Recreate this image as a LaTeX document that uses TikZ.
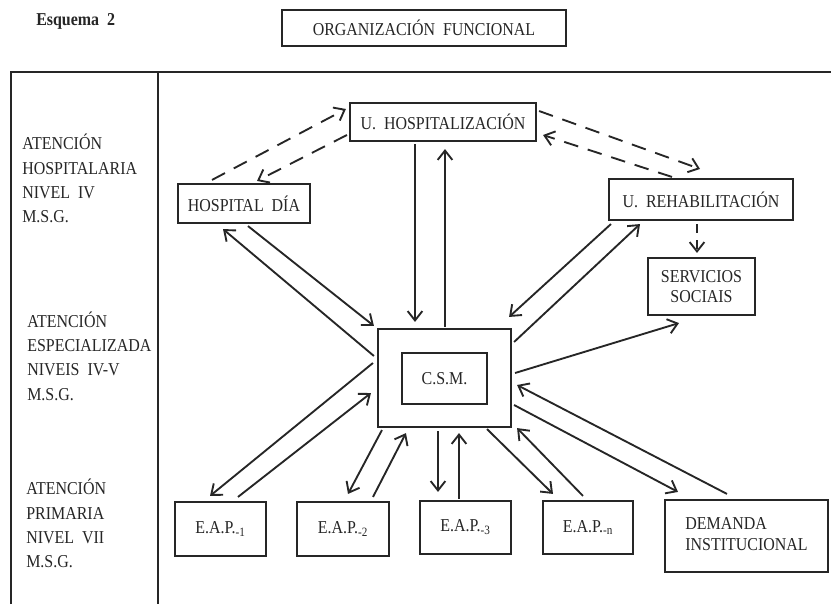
\documentclass[tikz,border=0pt]{standalone}
\usepackage{fontspec}
\setmainfont{Liberation Serif}[FakeStretch=0.88]
\usetikzlibrary{arrows.meta,calc}
\definecolor{ink}{HTML}{262626}
\tikzset{
  box/.style={draw=ink, line width=1.6pt, inner sep=0pt, align=center, text=ink},
  lbl/.style={inner sep=0pt, align=left, anchor=west, text=ink},
  arr/.style={draw=ink, line width=1.4pt, -{Straight Barb[length=7pt,width=11pt,line width=1.4pt]}},
  darr/.style={arr, dash pattern=on 11pt off 7.5pt},
  every node/.style={font=\fontsize{13.6}{18.2}\selectfont}
}
\begin{document}
\begin{tikzpicture}[x={(0.75pt,0)}, y={(0,-0.75pt)}]
\useasboundingbox[fill=white] (0,0) rectangle (831,604);
% frame
\draw[ink, line width=1.6pt] (11,604) -- (11,72) -- (831,72);
\draw[ink, line width=1.6pt] (158,72) -- (158,604);
% headers
\node[lbl, font=\fontsize{13.6}{16}\selectfont\bfseries] (esq) at (36,21) {Esquema\ \ 2};
\node[box, minimum width=213pt, minimum height=27pt] (title) at (424,28) {ORGANIZACIÓN\ \ FUNCIONAL};
% left labels
\node[lbl] (l1) at (22,178.5) {ATENCIÓN\\HOSPITALARIA\\NIVEL\ \ IV\\M.S.G.};
\node[lbl] (l2) at (27,356) {ATENCIÓN\\ESPECIALIZADA\\NIVEIS\ \ IV-V\\M.S.G.};
\node[lbl] (l3) at (26,523.5) {ATENCIÓN\\PRIMARIA\\NIVEL\ \ VII\\M.S.G.};
% boxes
\node[box, minimum width=139.5pt, minimum height=28.5pt] (uh) at (443,122) {U.\ \ HOSPITALIZACIÓN};
\node[box, minimum width=99pt, minimum height=29.25pt] (hd) at (244,203.5) {HOSPITAL\ \ DÍA};
\node[box, minimum width=138pt, minimum height=30.75pt] (ur) at (701,199.5) {U.\ \ REHABILITACIÓN};
\node[box, minimum width=80.25pt, minimum height=42.75pt, font=\fontsize{13.6}{15.5}\selectfont] (ss) at (701.5,286.5) {SERVICIOS\\SOCIAIS};
\node[box, minimum width=99.75pt, minimum height=73.5pt] (csm) at (444.5,378) {};
\node[box, minimum width=63.75pt, minimum height=38.25pt] (csmi) at (444.5,378.5) {C.S.M.};
\node[box, minimum width=68.25pt, minimum height=40.5pt] (e1) at (220.5,529) {E.A.P.\textsubscript{-1}};
\node[box, minimum width=69pt, minimum height=40.5pt] (e2) at (343,529) {E.A.P.\textsubscript{-2}};
\node[box, minimum width=68.25pt, minimum height=39.75pt] (e3) at (465.5,527.5) {E.A.P.\textsubscript{-3}};
\node[box, minimum width=67.5pt, minimum height=39.75pt] (en) at (588,527.5) {E.A.P.\textsubscript{-n}};
\node[box, minimum width=122.25pt, minimum height=54pt, font=\fontsize{13.6}{15.5}\selectfont] (dem) at (746.5,536) {\begin{tabular}{@{}l@{}}DEMANDA\\INSTITUCIONAL\end{tabular}};
% dashed connectors
\draw[darr] ($(hd.north)+(-32,-3)$) -- ($(uh.west)+(-3,-13)$);
\draw[darr] ($(uh.west)+(-2,13)$) -- ($(hd.north)+(13,-2)$);
\draw[darr] ($(uh.east)+(2,-11)$) -- ($(ur.north)+(-1,-9)$);
\draw[darr] ($(ur.north)+(-29,-1)$) -- ($(uh.east)+(6,13)$);
\draw[darr, dash pattern=on 7pt off 5pt] ($(ur.south)+(-4,3)$) -- ($(ss.north)+(-4.5,-4)$);
% solid connectors
\draw[arr] ($(uh.south)+(-28,2)$) -- ($(csm.north)+(-29.5,-6)$);
\draw[arr] ($(csm.north)+(0.5,-1)$) -- ($(uh.south)+(2,7)$);
\draw[arr] ($(hd.south)+(4,2)$) -- ($(csm.north west)+(-3,-2)$);
\draw[arr] ($(csm.west)+(-3,-22)$) -- ($(hd.south)+(-21,5)$);
\draw[arr] ($(ur.south west)+(3,3)$) -- ($(csm.north east)+(-3,-11)$);
\draw[arr] ($(csm.east)+(2,-36)$) -- ($(ur.south)+(-61,3)$);
\draw[arr] ($(csm.east)+(3,-5)$) -- ($(ss.south)+(-22.5,7)$);
\draw[arr] ($(dem.north)+(-19.5,-5)$) -- ($(csm.east)+(5,7)$);
\draw[arr] ($(csm.east)+(2,27)$) -- ($(dem.north)+(-68.5,-7)$);
\draw[arr] ($(csm.south)+(42.5,1)$) -- ($(en.north)+(-35,-6)$);
\draw[arr] ($(en.north)+(-5,-4)$) -- ($(csm.south east)+(5,0)$);
\draw[arr] ($(csm.south)+(-6.5,3)$) -- ($(e3.north)+(-27.5,-8)$);
\draw[arr] ($(e3.north)+(-6.5,-1)$) -- ($(csm.south)+(14.5,5)$);
\draw[arr] ($(csm.south west)+(5,2)$) -- ($(e2.north)+(5,-7)$);
\draw[arr] ($(e2.north)+(30,-4)$) -- ($(csm.south west)+(29,5)$);
\draw[arr] ($(csm.west)+(-4,-15)$) -- ($(e1.north)+(-10.5,-5)$);
\draw[arr] ($(e1.north)+(17.5,-4)$) -- ($(csm.west)+(-6,15)$);
\end{tikzpicture}
\end{document}
